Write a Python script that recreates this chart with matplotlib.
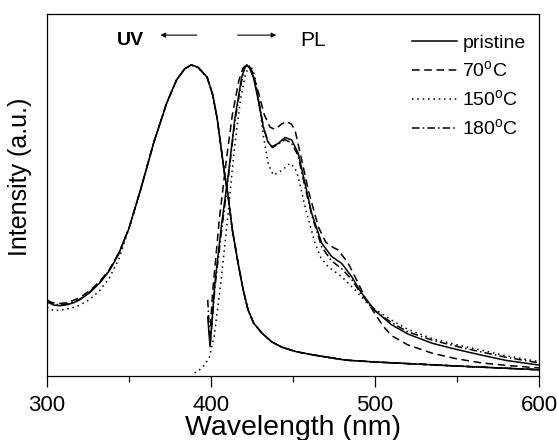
import matplotlib

matplotlib.use("Agg")

import matplotlib.pyplot as plt
from matplotlib.ticker import MultipleLocator

plt.rcParams.update(
    {
        "font.family": ["Liberation Sans", "DejaVu Sans"],
        "mathtext.fontset": "custom",
        "mathtext.rm": "Liberation Sans",
        "axes.linewidth": 0.9,
    }
)

# UV absorption (shared wavelength grid, curves differ only below ~345 nm)
UV_WL = [300, 304, 308, 312, 316, 320, 326, 332, 338, 344, 350, 357, 365, 373, 379,
         384, 388, 392, 397.6, 401, 403.7, 406, 408, 410.4, 413, 416.5, 419.5, 422.6,
         426, 431, 437, 443, 452, 462, 482, 500, 550, 600]
UV_COMMON = [0.475, 0.598, 0.749, 0.878, 0.952, 0.988, 1.0, 0.993, 0.961, 0.905, 0.83,
             0.74, 0.66, 0.58, 0.47, 0.363, 0.28, 0.212, 0.17, 0.138, 0.11, 0.093, 0.078,
             0.068, 0.051, 0.045, 0.032, 0.02]
UV_PRISTINE = [0.239, 0.228, 0.226, 0.229, 0.235, 0.245, 0.268, 0.298, 0.338, 0.395] + UV_COMMON
UV_70 = [0.236, 0.236, 0.233, 0.236, 0.243, 0.252, 0.274, 0.303, 0.342, 0.398] + UV_COMMON
UV_150 = [0.222, 0.21, 0.212, 0.215, 0.22, 0.228, 0.246, 0.274, 0.315, 0.378] + UV_COMMON
UV_180 = [0.245, 0.232, 0.228, 0.232, 0.238, 0.247, 0.27, 0.3, 0.34, 0.397] + UV_COMMON

# photoluminescence
PL_WL_PRISTINE = [398.0, 399.4, 402.4, 406.5, 410.6, 414.6, 418.7, 420.5, 421.8, 423.5,
                  425.8, 428.8, 431.9, 434.5, 437, 441, 445.1, 449.2, 453.2, 457.3, 461.4,
                  467.5, 473.6, 479.7, 485.8, 491.9, 500, 510, 520, 535, 550, 565, 580, 600]
PL_PRISTINE = [0.19, 0.094, 0.30, 0.49, 0.65, 0.83, 0.96, 0.99, 1.0, 0.99, 0.962, 0.887,
               0.80, 0.755, 0.737, 0.748, 0.767, 0.759, 0.716, 0.62, 0.523, 0.427, 0.384,
               0.362, 0.319, 0.266, 0.21, 0.165, 0.135, 0.105, 0.085, 0.067, 0.05, 0.035]

PL_WL_70 = [399.2, 401, 405, 409, 413, 417, 419.5, 421.5, 423.5, 425.5, 429, 432.5, 436,
            439, 443, 446.1, 449, 451.2, 455.3, 459.3, 465.4, 470, 473.6, 477.6, 483.7,
            489.8, 495, 500, 505, 510, 520, 535, 550, 565, 580, 600]
PL_70 = [0.12, 0.27, 0.50, 0.68, 0.84, 0.95, 0.99, 1.0, 0.995, 0.975, 0.91, 0.84, 0.80,
         0.793, 0.81, 0.818, 0.81, 0.791, 0.695, 0.598, 0.48, 0.43, 0.416, 0.405, 0.362,
         0.298, 0.24, 0.20, 0.16, 0.13, 0.10, 0.073, 0.055, 0.042, 0.034, 0.026]

PL_WL_150 = [390, 393, 396, 399, 402, 406, 410, 414, 418, 421, 423.5, 425.5, 427, 429.5,
             432, 435, 438, 443, 448.2, 451, 453.2, 457.3, 463.4, 467, 471.5, 479.7, 487.8,
             495.9, 500, 510, 520, 535, 550, 565, 580, 600]
PL_150 = [0.01, 0.02, 0.035, 0.06, 0.13, 0.30, 0.50, 0.72, 0.89, 0.97, 1.0, 0.985, 0.955,
          0.87, 0.77, 0.68, 0.646, 0.66, 0.684, 0.67, 0.641, 0.544, 0.427, 0.38, 0.351,
          0.319, 0.277, 0.23, 0.215, 0.18, 0.15, 0.12, 0.10, 0.083, 0.065, 0.046]

PL_WL_180 = [398, 399.5, 402.5, 406.5, 410.6, 414.6, 418.7, 420.5, 422, 423.7, 426, 429,
             432, 435, 437.5, 441, 445, 449, 453, 457, 461.5, 467.5, 473.5, 479.7, 485.8,
             492, 500, 510, 520, 535, 550, 565, 580, 600]
PL_180 = [0.245, 0.10, 0.29, 0.47, 0.64, 0.82, 0.95, 0.99, 1.0, 0.99, 0.96, 0.89, 0.80,
          0.75, 0.735, 0.745, 0.76, 0.75, 0.71, 0.615, 0.515, 0.415, 0.37, 0.345, 0.31,
          0.26, 0.21, 0.172, 0.142, 0.115, 0.095, 0.077, 0.06, 0.042]

SERIES = [
    ("pristine", UV_PRISTINE, PL_WL_PRISTINE, PL_PRISTINE, "-"),
    ("70$^{\\mathrm{o}}$C", UV_70, PL_WL_70, PL_70, (0, (5, 3))),
    ("150$^{\\mathrm{o}}$C", UV_150, PL_WL_150, PL_150, (0, (1, 2.5))),
    ("180$^{\\mathrm{o}}$C", UV_180, PL_WL_180, PL_180, (0, (5, 2, 1, 2))),
]

fig = plt.figure(figsize=(5.57, 4.40), dpi=100)
ax = fig.add_axes([0.0844, 0.1455, 0.8833, 0.8227])

for label, uv, pl_wl, pl, ls in SERIES:
    ax.plot(UV_WL, uv, color="black", linestyle=ls, linewidth=1.1, label=label)
    ax.plot(pl_wl, pl, color="black", linestyle=ls, linewidth=1.1)

ax.set_xlim(300, 600)
ax.set_ylim(0, 1.164)
ax.set_yticks([])
ax.xaxis.set_major_locator(MultipleLocator(100))
ax.xaxis.set_minor_locator(MultipleLocator(50))
ax.tick_params(axis="x", which="major", direction="out", length=8, width=0.9,
               labelsize=16, pad=6)
ax.tick_params(axis="x", which="minor", direction="out", length=4.5, width=0.9)
ax.set_xlabel("Wavelength (nm)", fontsize=20.5, labelpad=-1)
ax.set_ylabel("Intensity (a.u.)", fontsize=18, labelpad=8)
ax.yaxis.set_label_coords(-0.03, 0.55)

ax.text(351, 1.08, "UV", fontsize=14, fontweight="bold", ha="center", va="center")
ax.text(462, 1.08, "PL", fontsize=15, ha="center", va="center")
arrow = dict(arrowstyle="-|>", color="black", lw=0.8, mutation_scale=7)
ax.annotate("", xy=(367.5, 1.096), xytext=(393, 1.096), arrowprops=arrow)
ax.annotate("", xy=(441.5, 1.096), xytext=(414.5, 1.096), arrowprops=arrow)

ax.legend(loc="upper right", bbox_to_anchor=(0.973, 0.943), frameon=False, fontsize=14,
          handlelength=2.3, handletextpad=0.3, labelspacing=0.42, borderpad=0,
          borderaxespad=0)

fig.savefig("out.png", dpi=100)
